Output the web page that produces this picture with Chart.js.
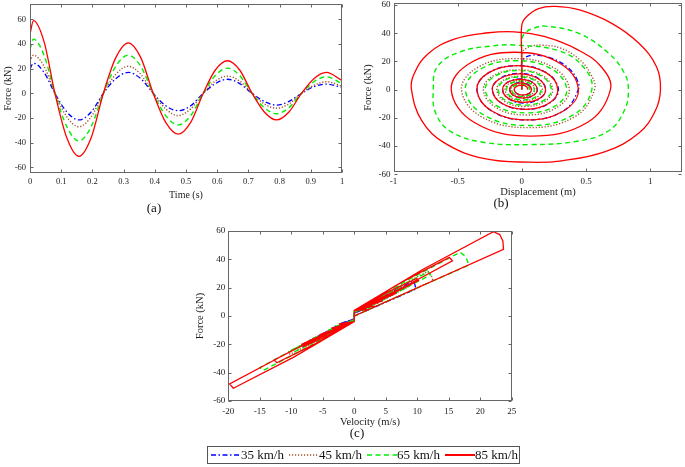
<!DOCTYPE html>
<html><head><meta charset="utf-8">
<script src="https://cdn.jsdelivr.net/npm/chart.js@4.4.1/dist/chart.umd.min.js"></script>
<style>
html,body{margin:0;padding:0;background:#fff;}
body{width:685px;height:467px;position:relative;overflow:hidden;font-family:"Liberation Serif","Times New Roman",serif;}
canvas{position:absolute;left:0;top:0;}
.lab{position:absolute;font-size:13px;color:#111;transform:translate(-50%,-50%);white-space:nowrap;}
#legend{position:absolute;left:207px;top:446px;width:313px;height:18px;border:1px solid #555;box-sizing:border-box;display:flex;align-items:center;padding-left:3px;font-size:13px;color:#111;white-space:nowrap;}
.item{display:flex;align-items:center;margin-right:5px;}
.item svg{width:30px;height:10px;display:block;}
</style></head>
<body>
<canvas id="ca" width="685" height="467"></canvas>
<canvas id="cb" width="685" height="467"></canvas>
<canvas id="cc" width="685" height="467"></canvas>
<div class="lab" style="left:154px;top:208px">(a)</div>
<div class="lab" style="left:501px;top:203px">(b)</div>
<div class="lab" style="left:357px;top:433px">(c)</div>
<div id="legend"></div>
<script>
// ---------- data ----------
const seriesNames = ['35 km/h','45 km/h','65 km/h','85 km/h'];

// (a) force vs time
const timeS   = [0,0.011,0.045,0.08,0.118,0.157,0.196,0.235,0.275,0.315,0.355,0.395,0.435,0.475,0.515,0.555,0.594,0.633,0.672,0.712,0.751,0.79,0.83,0.87,0.91,0.95,1];
const force35 = [20,24.5,17,0,-15,-21.5,-15,0,12,17,12,0,-10,-14,-10,0,8,11.5,8,0,-6.5,-9.5,-6.5,0,5.5,7.5,5];
const force45 = [26,31,22,0,-19,-27,-19,0,15.5,22,15.5,0,-12.5,-18,-12.5,0,10,14,10,0,-8.5,-12,-8.5,0,6.5,9.5,6];
const force65 = [36,44,31,0,-27,-38.5,-27,0,22,31,22,0,-18,-25.5,-18,0,14.5,20.5,14.5,0,-11.5,-16.5,-11.5,0,9.5,13.5,8];
const force85 = [48,59,42,0,-36,-51,-36,0,29,41,29,0,-23.5,-33,-23.5,0,19,26.5,19,0,-15,-21.5,-15,0,12,17,10.5];

// (b) force vs displacement: [displacement (m), force (kN)]
const dispForce85 = [[0,0],[0,23],[0,46],[0.04,52],[0.13,57.5],[0.26,59],
 [0.45,56.5],[0.70,47],[0.91,33],[1.05,16],[1.08,0],
 [1.04,-15],[0.91,-31],[0.65,-44],[0.31,-50.5],[0.06,-51.5],
 [-0.29,-49],[-0.6,-38],[-0.78,-22],[-0.86,0],
 [-0.84,11],[-0.73,25.5],[-0.52,36],[-0.26,40.3],[-0.06,41],
 [0.18,37.5],[0.44,28],[0.62,16],[0.69,0],
 [0.51,-23.3],[0.07,-33],[-0.37,-23.3],[-0.55,0],
 [-0.405,18.7],[-0.055,26.5],[0.295,18.7],[0.44,0],
 [0.324,-15.2],[0.045,-21.5],[-0.234,-15.2],[-0.35,0],
 [-0.258,12],[-0.035,17],[0.188,12],[0.28,0],
 [0.207,-9.9],[0.03,-14],[-0.154,-9.9],[-0.23,0],
 [-0.168,7.9],[-0.02,11.2],[0.125,7.9],[0.185,0],
 [0.135,-6.4],[0.015,-9],[-0.102,-6.4],[-0.15,0],
 [-0.11,5.2],[-0.012,7.3],[0.081,5.2],[0.12,0],
 [0.088,-4.2],[0.01,-6],[-0.064,-4.2],[-0.095,0],
 [-0.07,3.4],[-0.008,4.8],[0.05,3.4],[0.075,0],
 [0.055,-2.8],[0.005,-3.9],[-0.04,-2.8],[-0.06,0],
 [-0.042,2.3],[0,3.2],[0.034,2.3],[0.048,0]];
const dispForce65 = [[0,0],[0,18],[0,36],[0.03,40.5],[0.09,43.5],[0.18,45],
 [0.44,40],[0.68,25.5],[0.8,11.4],[0.83,0],
 [0.8,-14.5],[0.68,-29],[0.44,-36.5],[0.06,-39],
 [-0.29,-37.5],[-0.55,-30],[-0.67,-17],[-0.69,0],
 [-0.66,16],[-0.49,26.5],[-0.23,31],[-0.04,31.5],
 [0.29,27.5],[0.48,16],[0.545,0],
 [0.40,-18],[0.05,-25.5],[-0.296,-18],[-0.44,0],
 [-0.324,14.5],[-0.045,20.5],[0.234,14.5],[0.35,0],
 [0.258,-11.7],[0.035,-16.5],[-0.191,-11.7],[-0.285,0],
 [-0.21,9.5],[-0.03,13.5],[0.154,9.5],[0.23,0],
 [0.168,-7.8],[0.02,-11],[-0.125,-7.8],[-0.185,0],
 [-0.135,6.4],[-0.015,9],[0.102,6.4],[0.15,0],
 [0.109,-5.2],[0.01,-7.3],[-0.082,-5.2],[-0.12,0],
 [-0.088,4.2],[-0.01,6],[0.066,4.2],[0.097,0],
 [0.07,-3.4],[0.005,-4.8],[-0.054,-3.4],[-0.079,0],
 [-0.056,2.8],[0,4],[0.045,2.8],[0.064,0]];
const dispForce45 = [[0,0],[0,13],[0,26],[0.03,29],[0.08,31],[0.156,31.5],
 [0.3,29.5],[0.44,22],[0.53,12],[0.566,0],
 [0.415,-19.1],[0.05,-27],[-0.318,-19.1],[-0.47,0],
 [-0.347,15.6],[-0.05,22],[0.247,15.6],[0.37,0],
 [0.272,-12.7],[0.035,-18],[-0.202,-12.7],[-0.30,0],
 [-0.221,9.9],[-0.03,14],[0.161,9.9],[0.24,0],
 [0.176,-8.5],[0.02,-12],[-0.132,-8.5],[-0.195,0],
 [-0.142,6.7],[-0.015,9.5],[0.109,6.7],[0.16,0],
 [0.116,-5.5],[0.01,-7.8],[-0.089,-5.5],[-0.13,0],
 [-0.095,4.5],[-0.01,6.3],[0.068,4.5],[0.1,0],
 [0.072,-3.6],[0.005,-5.1],[-0.058,-3.6],[-0.085,0],
 [-0.06,2.9],[0,4.1],[0.048,2.9],[0.068,0]];
const dispForce35 = [[0,0],[0,10],[0,20],[0.03,23],[0.07,24.3],[0.12,24.5],
 [0.24,22],[0.36,15.5],[0.43,7],[0.44,0],
 [0.323,-15.2],[0.04,-21.5],[-0.236,-15.2],[-0.35,0],
 [-0.258,12],[-0.035,17],[0.191,12],[0.285,0],
 [0.21,-9.9],[0.03,-14],[-0.154,-9.9],[-0.23,0],
 [-0.168,8.1],[-0.02,11.5],[0.125,8.1],[0.185,0],
 [0.135,-6.7],[0.015,-9.5],[-0.102,-6.7],[-0.15,0],
 [-0.11,5.3],[-0.012,7.5],[0.081,5.3],[0.12,0],
 [0.088,-4.2],[0.01,-6],[-0.064,-4.2],[-0.095,0],
 [-0.07,3.5],[-0.008,5],[0.05,3.5],[0.075,0],
 [0.055,-2.8],[0.005,-4],[-0.04,-2.8],[-0.06,0]];

// (c) force vs velocity: [velocity (m/s), force (kN)]
const velForce85 = [[0,0],[23.7,47],[23.6,53],[23.1,57.5],[22.1,59.5],
 [11,33.2],[0,4],[0,-4],[-9.9,-24.5],[-19.8,-48],[-19.2,-51],
 [-9.6,-29],[0,-4],[0,4],[7.8,20.3],[15.6,39],[15.1,41.4],
 [7.55,23.9],[0,4],[0,-4],[-6.35,-16.5],[-12.7,-31],[-12.3,-33],
 [-6.15,-19.5],[0,-4],[0,4],[5.1,13.7],[10.2,25],[9.9,26.5],
 [4.95,16],[0,4],[0,-4],[-4.15,-11.3],[-8.3,-20],[-8.0,-21.5],
 [-4,-13.4],[0,-4],[0,4],[3.3,9.4],[6.6,16],[6.4,17],
 [3.2,11.1],[0,4],[0,-4],[-5.4,-13],[-5.2,-14],
 [0,-4],[0,4],[4.4,10.5],[4.2,11.2],
 [0,4],[0,-4],[-3.5,-8.5],[-3.4,-9],
 [0,-4],[0,4],[2.8,6.8],[2.7,7.3],
 [0,4],[0,-4],[-2.3,-5.5],[-2.2,-6],
 [0,-4],[0,4],[1.9,4.5],[1.8,4.8],[0,4],[0,-4]];
const velForce65 = [[0,0],[18.2,36],[17.7,42],[16.8,45],
 [8.4,25.2],[0,3],[0,-3],[-7.5,-18.5],[-15,-36.5],[-14.5,-38.5],
 [-7.25,-21.8],[0,-3],[0,3],[6.05,15],[12.1,29],[11.7,31],
 [5.85,17.8],[0,3],[0,-3],[-4.95,-12.7],[-9.9,-24],[-9.6,-25.5],
 [-4.8,-15],[0,-3],[0,3],[4,10.6],[8,19.3],[7.7,20.5],
 [3.85,12.4],[0,3],[0,-3],[-6.4,-15.5],[-6.2,-16.5],
 [0,-3],[0,3],[5.3,12.7],[5.1,13.5],
 [0,3],[0,-3],[-4.3,-10.3],[-4.2,-11],
 [0,-3],[0,3],[3.5,8.5],[3.4,9],
 [0,3],[0,-3],[-2.9,-6.8],[-2.8,-7.3],
 [0,-3],[0,3],[2.4,5.6],[2.3,6],[0,3]];
const velForce45 = [[0,0],[12.5,25],[12.2,29],[11.7,31.5],
 [5.85,18],[0,2.5],[0,-2.5],[-5.25,-13.1],[-10.5,-25.5],[-10.2,-27],
 [-5.1,-15.6],[0,-2.5],[0,2.5],[4.3,10.9],[8.6,20.7],[8.3,22],
 [4.15,13],[0,2.5],[0,-2.5],[-7,-17],[-6.8,-18],
 [0,-2.5],[0,2.5],[5.5,13.2],[5.3,14],
 [0,2.5],[0,-2.5],[-4.6,-11.3],[-4.5,-12],
 [0,-2.5],[0,2.5],[3.7,8.9],[3.6,9.5],
 [0,2.5],[0,-2.5],[-3,-7.3],[-2.9,-7.8],
 [0,-2.5],[0,2.5],[2.5,5.9],[2.4,6.3],[0,2.5]];
const velForce35 = [[0,0],[9.8,19],[9.6,22.5],[9.3,24.5],
 [4.65,14],[0,2],[0,-2],[-4.15,-10.5],[-8.3,-20.3],[-8.1,-21.5],
 [-4.05,-12.5],[0,-2],[0,2],[6.6,16],[6.4,17],
 [0,2],[0,-2],[-5.4,-13.2],[-5.3,-14],
 [0,-2],[0,2],[4.4,10.8],[4.3,11.5],
 [0,2],[0,-2],[-3.7,-8.9],[-3.6,-9.5],
 [0,-2],[0,2],[2.9,7],[2.8,7.5],
 [0,2],[0,-2],[-2.4,-5.6],[-2.3,-6],[0,-2]];

// tick labels
const ticksTime  = [0,0.1,0.2,0.3,0.4,0.5,0.6,0.7,0.8,0.9,1];
const ticksDisp  = [-1,-0.5,0,0.5,1];
const ticksVel   = [-20,-15,-10,-5,0,5,10,15,20,25];
const ticksForce = [-60,-40,-20,0,20,40,60];

// ---------- styles ----------
const FONT = '"Liberation Serif","Times New Roman",serif';
const styles = [
  {color:'#0000ff', dash:[5,2.5,1.5,2.5], width:1.3},
  {color:'#a0522d', dash:[1.2,1.8], width:1.4},
  {color:'#00ee00', dash:[5,3.5], width:1.4},
  {color:'#ff0000', dash:[], width:1.3}
];

const framePlugin = {
  id:'frame',
  afterDatasetsDraw(chart){
    const {ctx, chartArea:a, scales:{x,y}} = chart;
    ctx.save();
    ctx.strokeStyle = '#666'; ctx.lineWidth = 1;
    const L = Math.round(a.left)+0.5, R = Math.round(a.right)-0.5, T = Math.round(a.top)+0.5, B = Math.round(a.bottom)-0.5;
    ctx.strokeRect(L, T, R-L, B-T);
    ctx.beginPath();
    const tl = 3;
    x.ticks.forEach(t=>{ const px = Math.round(x.getPixelForValue(t.value))+0.5;
      ctx.moveTo(px,B); ctx.lineTo(px,B-tl); ctx.moveTo(px,T); ctx.lineTo(px,T+tl); });
    y.ticks.forEach(t=>{ const py = Math.round(y.getPixelForValue(t.value))+0.5;
      ctx.moveTo(L,py); ctx.lineTo(L+tl,py); ctx.moveTo(R,py); ctx.lineTo(R-tl,py); });
    ctx.stroke();
    ctx.restore();
  }
};

function axis(opt){
  return {
    type:'linear', min:opt.min, max:opt.max,
    grid:{display:false, drawTicks:false}, border:{display:false},
    afterBuildTicks: s => { s.ticks = opt.ticks.map(v=>({value:v})); },
    afterFit: s => {
      if (opt.w !== undefined) s.width = opt.w;
      if (opt.h !== undefined) s.height = opt.h;
      s.paddingTop = 0; s.paddingBottom = 0; s.paddingLeft = 0; s.paddingRight = 0;
    },
    ticks:{autoSkip:false, maxRotation:0, minRotation:0, padding:opt.pad, color:'#222',
      font:{family:FONT, size:opt.tickSize}, callback: v => String(v)},
    title:{display:true, text:opt.title, color:'#222', font:{family:FONT, size:opt.titleSize},
      padding:{top:2, bottom:0}}
  };
}

function makeDatasets(arrays, tension, mono){
  const idx = [3,2,1,0]; // red drawn on top
  return idx.map(i => ({
    label: seriesNames[i],
    data: arrays[i],
    borderColor: styles[i].color,
    borderDash: styles[i].dash,
    borderWidth: styles[i].width,
    pointRadius: 0,
    fill: false,
    showLine: true,
    tension: tension,
    cubicInterpolationMode: mono ? 'monotone' : 'default'
  }));
}

function baseOptions(padding, xs, ys){
  return {
    responsive:false, animation:false, events:[],
    layout:{padding},
    plugins:{legend:{display:false}, tooltip:{enabled:false}},
    scales:{x:xs, y:ys}
  };
}

const toXY = arr => arr.map(p => ({x:p[0], y:p[1]}));

// (a)
const aSeries = [force35, force45, force65, force85].map(f => timeS.map((t,i)=>({x:t, y:f[i]})));
new Chart(document.getElementById('ca'), {
  type:'line',
  data:{datasets: makeDatasets(aSeries, 0, true)},
  options: baseOptions({left:0, top:4, right:343, bottom:266},
    axis({min:0, max:1, ticks:ticksTime, h:28, pad:4, tickSize:8.5, title:'Time (s)', titleSize:10}),
    axis({min:-64.5, max:72.5, ticks:ticksForce, w:30, pad:4, tickSize:8.5, title:'Force (kN)', titleSize:10})),
  plugins:[framePlugin]
});

// (b)
const bSeries = [dispForce35, dispForce45, dispForce65, dispForce85].map(toXY);
new Chart(document.getElementById('cb'), {
  type:'scatter',
  data:{datasets: makeDatasets(bSeries, 0.4, false)},
  options: baseOptions({left:359.5, top:3.3, right:2.7, bottom:268},
    axis({min:-1, max:1.25, ticks:ticksDisp, h:27.2, pad:4, tickSize:9, title:'Displacement (m)', titleSize:10.5}),
    axis({min:-58.3, max:61.2, ticks:ticksForce, w:34, pad:3, tickSize:9, title:'Force (kN)', titleSize:10.5})),
  plugins:[framePlugin]
});

// (c)
const cSeries = [velForce35, velForce45, velForce65, velForce85].map(toXY);
new Chart(document.getElementById('cc'), {
  type:'scatter',
  data:{datasets: makeDatasets(cSeries, 0, false)},
  options: baseOptions({left:191.7, top:231, right:173.3, bottom:38.7},
    axis({min:-20, max:25, ticks:ticksVel, h:27.3, pad:5, tickSize:9, title:'Velocity (m/s)', titleSize:10.5}),
    axis({min:-60, max:60, ticks:ticksForce, w:36.6, pad:3, tickSize:9, title:'Force (kN)', titleSize:10.5})),
  plugins:[framePlugin]
});

// legend (HTML, real text)
const leg = document.getElementById('legend');
seriesNames.forEach((name,i)=>{
  const s = styles[i];
  const item = document.createElement('div'); item.className='item';
  item.innerHTML = '<svg viewBox="0 0 30 10"><line x1="0" y1="5" x2="30" y2="5" stroke="'+s.color+
    '" stroke-width="'+(i===3?2:1.5)+'" stroke-dasharray="'+(s.dash.length?s.dash.join(' '):'none')+'"/></svg><span>'+name+'</span>';
  leg.appendChild(item);
});
</script>
</body></html>
